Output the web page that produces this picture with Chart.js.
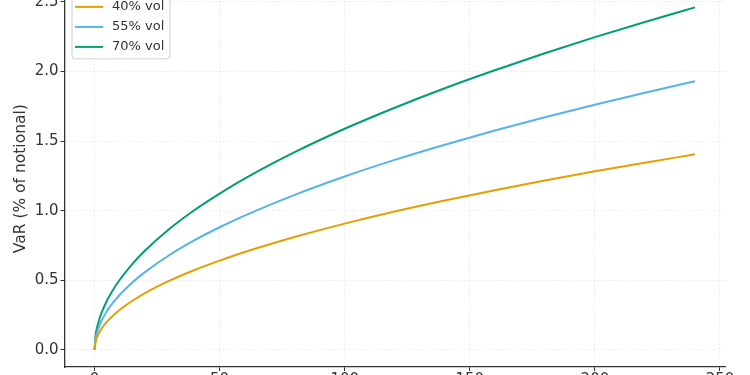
<!DOCTYPE html>
<html>
<head>
<meta charset="utf-8">
<script src="https://cdn.jsdelivr.net/npm/chart.js@4"></script>
<style>
  html, body { margin: 0; padding: 0; background: #fff; overflow: hidden; }
  #wrap { position: absolute; left: 0; top: -30px; width: 750px; height: 440px; }
</style>
</head>
<body>
<div id="wrap"><canvas id="myChart" width="750" height="440"></canvas></div>
<script>
// horizon (days) and VaR as % of notional
const horizon = [0, 0.5, 1, 2, 3, 5, 7, 10, 15, 20, 30, 40, 50, 60, 80, 100, 120, 140, 160, 180, 200, 220, 240];
const var40 = [0, 0.064, 0.091, 0.128, 0.157, 0.203, 0.240, 0.287, 0.351, 0.406, 0.497, 0.574, 0.641, 0.703, 0.811, 0.907, 0.994, 1.073, 1.147, 1.217, 1.283, 1.345, 1.405];
const var55 = [0, 0.088, 0.125, 0.176, 0.216, 0.279, 0.330, 0.394, 0.483, 0.557, 0.682, 0.788, 0.881, 0.965, 1.114, 1.246, 1.365, 1.474, 1.576, 1.671, 1.762, 1.848, 1.930];
const var70 = [0, 0.112, 0.159, 0.225, 0.275, 0.355, 0.420, 0.502, 0.615, 0.710, 0.870, 1.005, 1.123, 1.231, 1.421, 1.589, 1.740, 1.880, 2.009, 2.131, 2.247, 2.356, 2.461];
const seriesLabels = ['40% vol', '55% vol', '70% vol'];
const seriesColors = ['#E69F00', '#56B4E9', '#009E73'];
const xTicks = [0, 50, 100, 150, 200, 250];
const yTicks = [0.0, 0.5, 1.0, 1.5, 2.0, 2.5];

const font = 'DejaVu Sans';
const toXY = (ys) => horizon.map((x, i) => ({ x: x, y: ys[i] }));

const lineProps = {
  borderWidth: 2,
  pointRadius: 0,
  fill: false,
  cubicInterpolationMode: 'monotone'
};

// legend drawn inside the plot, upper left, matplotlib style
const innerLegend = {
  id: 'innerLegend',
  afterDraw(chart) {
    const { ctx, chartArea } = chart;
    const x0 = chartArea.left + 7.5;
    const y0 = chartArea.top + 4.5;
    const w = 98, h = 64;
    ctx.save();
    ctx.fillStyle = 'rgba(255,255,255,0.85)';
    ctx.strokeStyle = '#d0d0d0';
    ctx.lineWidth = 1;
    ctx.beginPath();
    ctx.roundRect(x0, y0, w, h, 3);
    ctx.fill();
    ctx.stroke();
    ctx.font = '13px "' + font + '"';
    ctx.textBaseline = 'middle';
    chart.data.datasets.forEach((ds, i) => {
      const cy = y0 + 12 + i * 20;
      ctx.strokeStyle = ds.borderColor;
      ctx.lineWidth = 2;
      ctx.beginPath();
      ctx.moveTo(x0 + 3, cy);
      ctx.lineTo(x0 + 31, cy);
      ctx.stroke();
      ctx.fillStyle = '#333';
      ctx.fillText(ds.label, x0 + 40, cy);
    });
    ctx.restore();
  }
};

const config = {
  type: 'line',
  data: {
    datasets: [
      { label: seriesLabels[0], data: toXY(var40), borderColor: seriesColors[0], ...lineProps },
      { label: seriesLabels[1], data: toXY(var55), borderColor: seriesColors[1], ...lineProps },
      { label: seriesLabels[2], data: toXY(var70), borderColor: seriesColors[2], ...lineProps }
    ]
  },
  options: {
    responsive: false,
    animation: false,
    layout: { padding: { left: 0, right: 25, top: 20.4, bottom: 0 } },
    plugins: {
      legend: { display: false },
      tooltip: { enabled: false }
    },
    scales: {
      x: {
        type: 'linear',
        min: -12, max: 252,
        afterFit: (s) => { s.height = 43; },
        afterBuildTicks: (s) => { s.ticks = xTicks.map(v => ({ value: v })); },
        ticks: {
          includeBounds: false,
          font: { family: font, size: 15 },
          color: '#333',
          padding: 0,
          maxRotation: 0
        },
        grid: { color: '#e3e3e3', lineWidth: 0.8, tickColor: '#333', tickLength: 4, tickWidth: 1, tickBorderDash: [] },
        border: { color: '#333', width: 1.3, dash: [1.5, 2] }
      },
      y: {
        min: -0.123, max: 2.583,
        afterFit: (s) => { s.width = 64.5; },
        afterBuildTicks: (s) => { s.ticks = yTicks.map(v => ({ value: v })); },
        ticks: {
          includeBounds: false,
          font: { family: font, size: 15 },
          color: '#333',
          padding: 2,
          callback: (v) => Number(v).toFixed(1)
        },
        grid: { color: '#e3e3e3', lineWidth: 0.8, tickColor: '#333', tickLength: 4, tickWidth: 1, tickBorderDash: [] },
        border: { color: '#333', width: 1.3, dash: [1.5, 2] },
        title: {
          display: true,
          text: 'VaR (% of notional)',
          font: { family: font, size: 15.5 },
          color: '#333',
          padding: { top: 12, bottom: 0 }
        }
      }
    }
  },
  plugins: [innerLegend]
};

new Chart(document.getElementById('myChart'), config);
</script>
</body>
</html>
